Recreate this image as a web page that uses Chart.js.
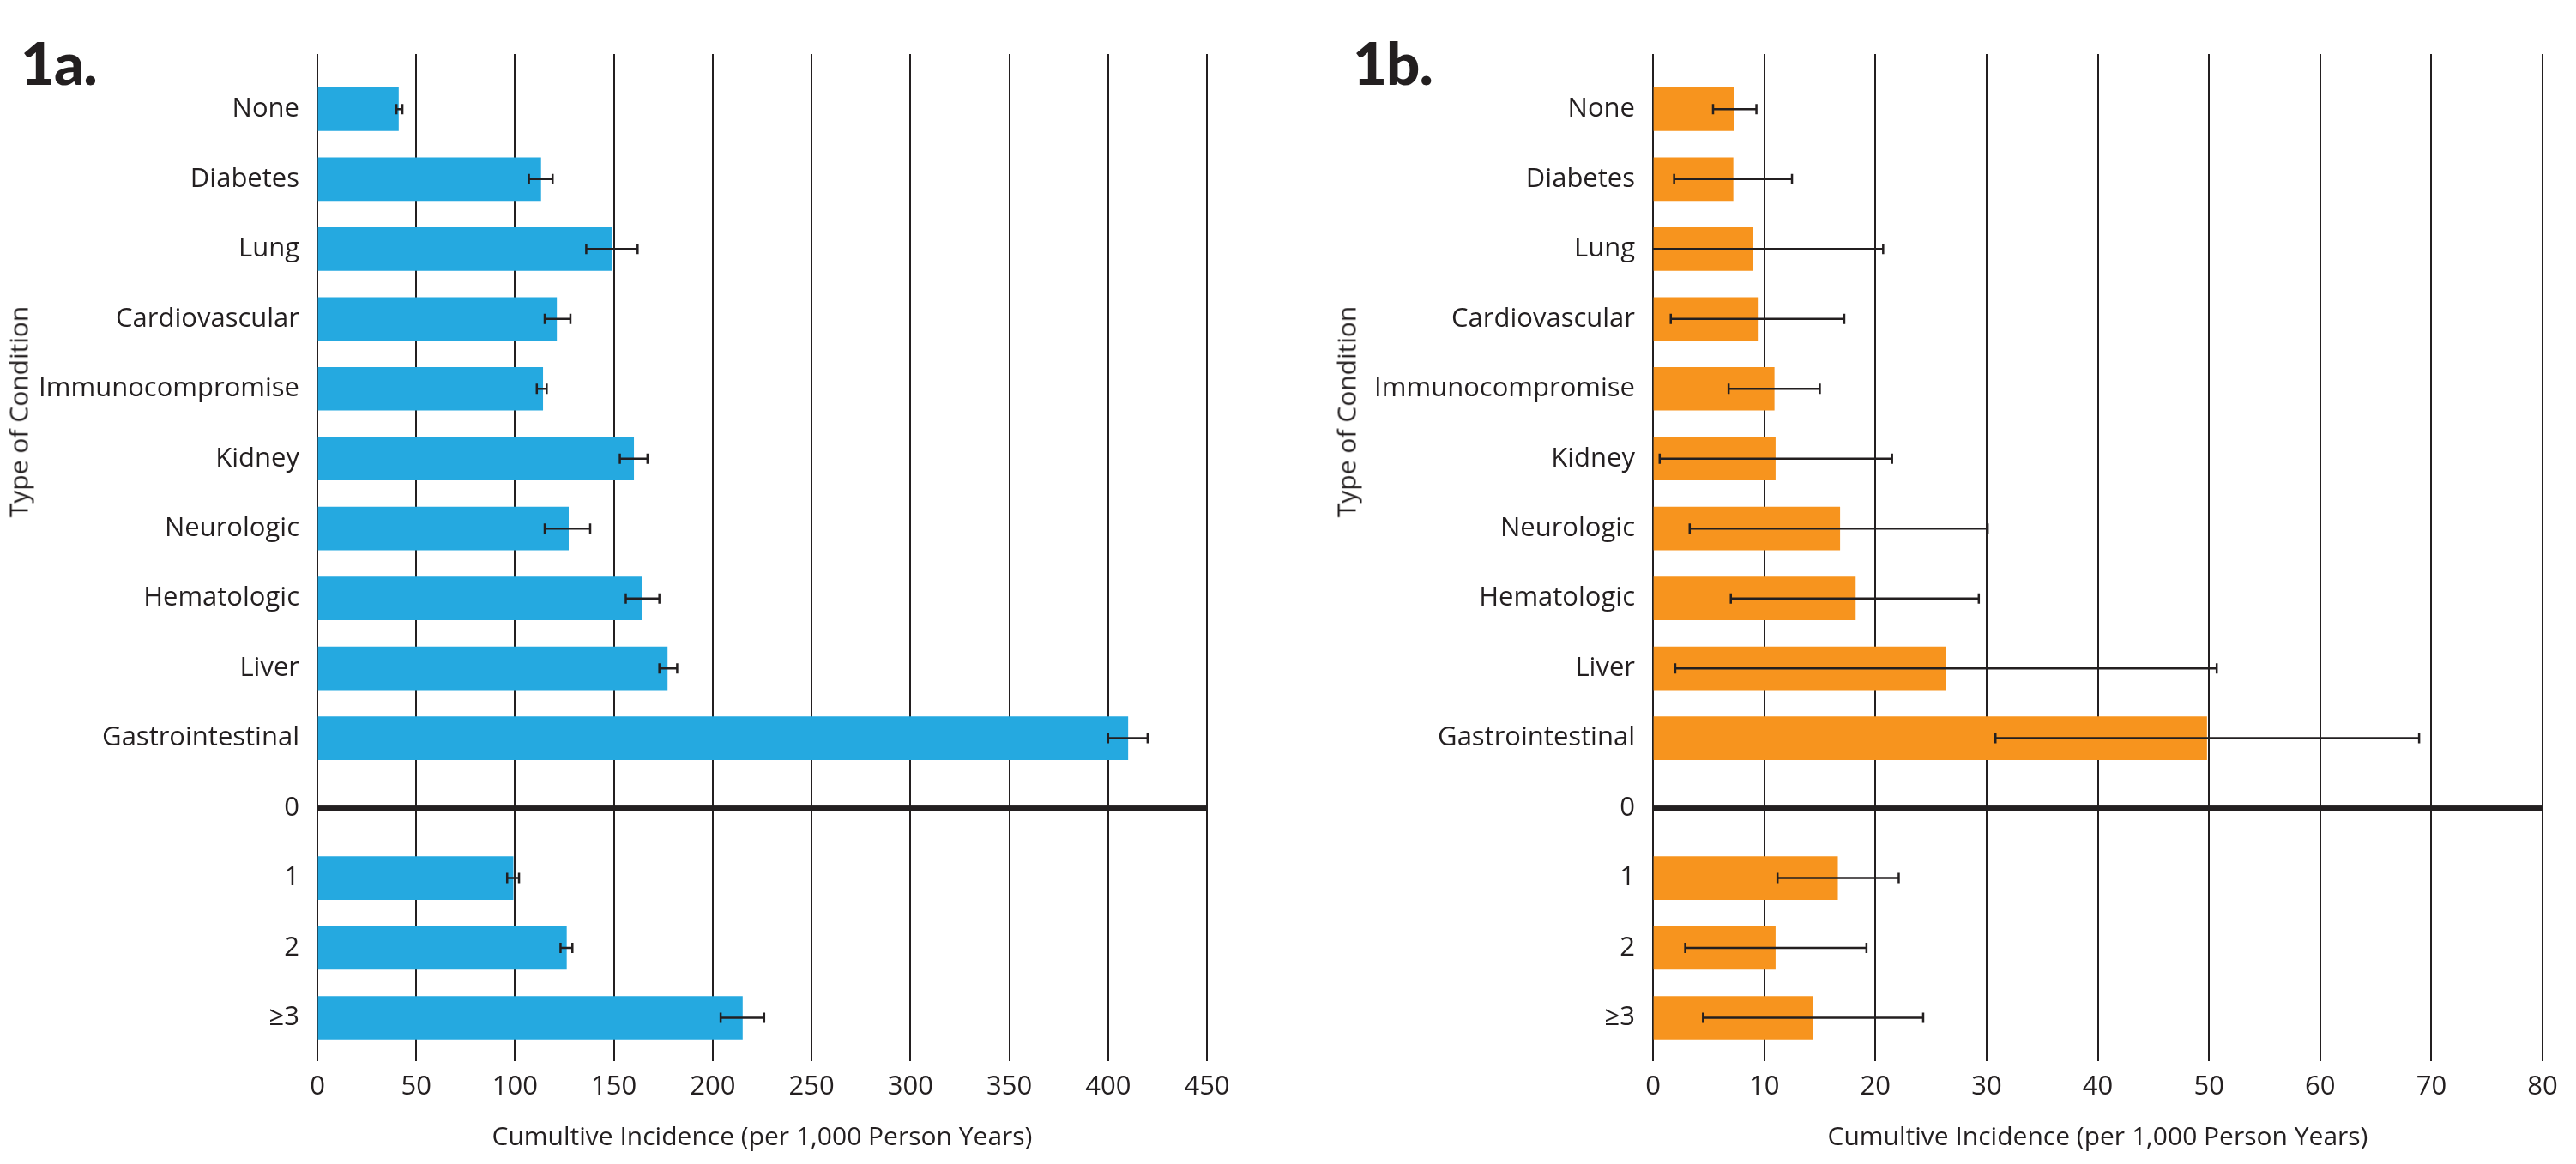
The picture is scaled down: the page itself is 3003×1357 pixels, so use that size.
<!DOCTYPE html>
<html>
<head>
<meta charset="utf-8">
<script src="https://cdn.jsdelivr.net/npm/chart.js@4.4.1/dist/chart.umd.min.js"></script>
<style>
  html, body { margin: 0; padding: 0; background: #ffffff; }
  body { width: 3003px; height: 1357px; position: relative; overflow: hidden; font-family: "Open Sans", Lato, sans-serif; color: #231F20; }
  canvas { position: absolute; top: 0; }
  #chartA { left: 0; }
  #chartB { left: 1557px; }
  .panel-tag { position: absolute; font-family: Lato, sans-serif; font-weight: 900; font-size: 69px; line-height: 69px; color: #231F20; letter-spacing: -1px; }
  .axis-title-y { position: absolute; font-family: "Open Sans", sans-serif; font-size: 30px; color: #231F20; white-space: nowrap; transform: translate(-50%, -50%) rotate(-90deg); }
</style>
</head>
<body>
<canvas id="chartA" width="1450" height="1357"></canvas>
<canvas id="chartB" width="1446" height="1357"></canvas>
<div class="panel-tag" style="left:24px; top:38px;">1a.</div>
<div class="panel-tag" style="left:1577px; top:38px;">1b.</div>
<div class="axis-title-y" style="left:21px; top:480px;">Type of Condition</div>
<div class="axis-title-y" style="left:1569px; top:480px;">Type of Condition</div>
<script>
// Rows of both panels: condition types, a separator row, then number of conditions
const categories = ['None', 'Diabetes', 'Lung', 'Cardiovascular', 'Immunocompromise', 'Kidney',
  'Neurologic', 'Hematologic', 'Liver', 'Gastrointestinal', '0', '1', '2', '≥3'];
const separatorRow = '0';

// Panel 1a: cumulative incidence per 1,000 person years with 95% CI
const incidenceA = [41, 113, 149, 121, 114, 160, 127, 164, 177, 410, null, 99, 126, 215];
const ciLowA     = [40, 107, 136, 115, 111, 153, 115, 156, 173, 400, null, 96, 123, 204];
const ciHighA    = [43, 119, 162, 128, 116, 167, 138, 173, 182, 420, null, 102, 129, 226];
const xTicksA = [0, 50, 100, 150, 200, 250, 300, 350, 400, 450];

// Panel 1b: cumulative incidence per 1,000 person years with 95% CI
const incidenceB = [7.3, 7.2, 9.0, 9.4, 10.9, 11.0, 16.8, 18.2, 26.3, 49.8, null, 16.6, 11.0, 14.4];
const ciLowB     = [5.4, 1.9, -2.6, 1.6, 6.8, 0.6, 3.3, 7.0, 2.0, 30.8, null, 11.2, 2.9, 4.5];
const ciHighB    = [9.3, 12.5, 20.7, 17.2, 15.0, 21.5, 30.1, 29.3, 50.7, 68.9, null, 22.1, 19.2, 24.3];
const xTicksB = [0, 10, 20, 30, 40, 50, 60, 70, 80];

const xTitle = 'Cumultive Incidence (per 1,000 Person Years)';

const INK = '#231F20';
const FONT = '"Open Sans", Lato, sans-serif';

// Draws confidence-interval whiskers and the heavy separator rule
function overlayPlugin(low, high) {
  return {
    id: 'ciOverlay',
    afterDatasetsDraw(chart) {
      const { ctx, chartArea, scales } = chart;
      const xs = scales.x, ys = scales.y;
      ctx.save();
      // separator rule across the full plot width
      const sy = ys.getPixelForValue(categories.indexOf(separatorRow));
      ctx.fillStyle = INK;
      ctx.fillRect(chartArea.left, sy - 3, chartArea.right - chartArea.left, 6);

      ctx.beginPath();
      ctx.rect(chartArea.left - 1, chartArea.top, chartArea.right - chartArea.left + 2, chartArea.bottom - chartArea.top);
      ctx.clip();
      ctx.strokeStyle = INK;
      ctx.lineWidth = 2.5;
      const cap = 6;
      low.forEach((lo, i) => {
        const hi = high[i];
        if (lo === null || hi === null) return;
        const y = ys.getPixelForValue(i);
        const x1 = xs.getPixelForValue(lo);
        const x2 = xs.getPixelForValue(hi);
        ctx.beginPath();
        ctx.moveTo(x1, y); ctx.lineTo(x2, y);
        ctx.moveTo(x1, y - cap); ctx.lineTo(x1, y + cap);
        ctx.moveTo(x2, y - cap); ctx.lineTo(x2, y + cap);
        ctx.stroke();
      });
      ctx.restore();
    }
  };
}

function makeChart(id, values, low, high, ticks, color, padRight) {
  const points = values
    .map((v, i) => ({ x: v, y: i }))
    .filter(p => p.x !== null);
  return new Chart(document.getElementById(id), {
    type: 'bar',
    data: {
      datasets: [{
        data: points,
        backgroundColor: color,
        borderWidth: 0,
        barThickness: 50
      }]
    },
    options: {
      indexAxis: 'y',
      responsive: false,
      animation: false,
      devicePixelRatio: 1,
      layout: { padding: { top: 63, right: padRight, bottom: 0, left: 0 } },
      plugins: { legend: { display: false }, tooltip: { enabled: false } },
      scales: {
        x: {
          type: 'linear',
          min: ticks[0],
          max: ticks[ticks.length - 1],
          afterBuildTicks(axis) { axis.ticks = ticks.map(v => ({ value: v })); },
          afterFit(axis) { axis.height = 120; },
          grid: { color: INK, lineWidth: 2, drawTicks: false },
          border: { display: false },
          ticks: { color: INK, padding: 12, font: { family: FONT, size: 31 } },
          title: {
            display: true,
            text: xTitle,
            color: INK,
            font: { family: FONT, size: 30 },
            padding: { top: 0, bottom: 13 }
          }
        },
        y: {
          type: 'linear',
          reverse: true,
          offset: false,
          min: -0.79,
          max: 13.62,
          afterBuildTicks(axis) { axis.ticks = categories.map((c, i) => ({ value: i })); },
          afterFit(axis) { axis.width = 370; },
          grid: { display: false, drawTicks: false, offset: false },
          border: { display: false },
          ticks: {
            autoSkip: false,
            color: INK,
            padding: 21,
            font: { family: FONT, size: 31 },
            callback: (v) => categories[v] ?? ''
          }
        }
      }
    },
    plugins: [overlayPlugin(low, high)]
  });
}

makeChart('chartA', incidenceA, ciLowA, ciHighA, xTicksA, '#25A9E0', 43);
makeChart('chartB', incidenceB, ciLowB, ciHighB, xTicksB, '#F7941E', 39);
</script>
</body>
</html>
